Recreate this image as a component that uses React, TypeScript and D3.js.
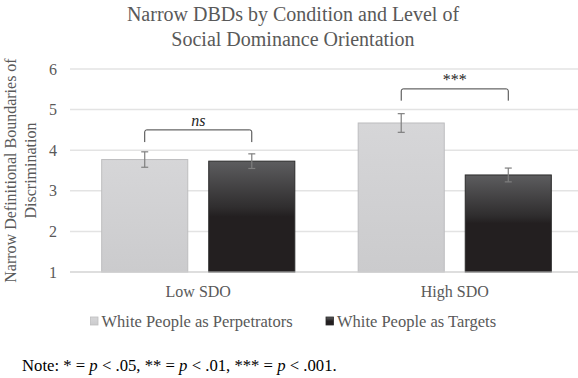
import React from "react";
import * as d3 from "d3";

// chart values
const conditions = ["Low SDO", "High SDO"];
const seriesNames = ["White People as Perpetrators", "White People as Targets"];
const perpetratorMeans = [3.77, 4.67];
const targetMeans = [3.73, 3.39];
const perpetratorSE = [0.19, 0.23];
const targetSE = [0.18, 0.17];
const yTicks = [1, 2, 3, 4, 5, 6];
const brackets = [
  { cond: "Low SDO", top: 4.5, foot: 4.2, label: "ns", italic: true },
  { cond: "High SDO", top: 5.51, foot: 5.22, label: "***", italic: false },
];

const W = 578;
const H = 378;
const margin = { top: 69, right: -5, bottom: 106, left: 70 };
const FONT = "'Liberation Serif', 'Times New Roman', serif";
const GREY = "#595959";

export default function App() {
  const rows = conditions.map((c, i) => ({
    cond: c,
    values: [
      { s: seriesNames[0], v: perpetratorMeans[i], se: perpetratorSE[i] },
      { s: seriesNames[1], v: targetMeans[i], se: targetSE[i] },
    ],
  }));

  const x0 = d3
    .scaleBand()
    .domain(conditions)
    .range([margin.left, W - margin.right]);
  const x1 = d3
    .scaleBand()
    .domain(seriesNames)
    .range([0, x0.bandwidth()])
    .paddingInner(0.196)
    .paddingOuter(0.296);
  const y = d3
    .scaleLinear()
    .domain([1, 6])
    .range([H - margin.bottom, margin.top]);

  const fillFor = (s) => (s === seriesNames[0] ? "url(#lightGrad)" : "url(#darkGrad)");
  const strokeFor = (s) => (s === seriesNames[0] ? "#bdbdbf" : "#2b2b2b");

  return (
    <svg width={W} height={H} style={{ display: "block", position: "absolute", left: 0, top: 0 }}>
      <defs>
        <linearGradient id="lightGrad" x1="0" y1="0" x2="0" y2="1">
          <stop offset="0" stopColor="#d6d6d8" />
          <stop offset="1" stopColor="#cbcbcd" />
        </linearGradient>
        <linearGradient id="darkGrad" x1="0" y1="0" x2="0" y2="1">
          <stop offset="0" stopColor="#5d5d5f" />
          <stop offset="0.42" stopColor="#2f2d2e" />
          <stop offset="0.5" stopColor="#231f20" />
          <stop offset="1" stopColor="#231f20" />
        </linearGradient>
      </defs>
      <rect width={W} height={H} fill="#fff" />

      {/* title */}
      <text x={293} textAnchor="middle" fontFamily={FONT} fontSize={20} fill={GREY}>
        <tspan x={293} y={21}>Narrow DBDs by Condition and Level of</tspan>
        <tspan x={293} y={46}>Social Dominance Orientation</tspan>
      </text>

      {/* gridlines */}
      {yTicks.map((t) => (
        <line
          key={t}
          x1={margin.left}
          x2={W}
          y1={y(t)}
          y2={y(t)}
          stroke={t === 1 ? "#d9d9d9" : "#e3e3e3"}
          strokeWidth={1.5}
        />
      ))}
      {yTicks.map((t) => (
        <text
          key={"l" + t}
          x={57}
          y={y(t)}
          dy="0.35em"
          textAnchor="end"
          fontFamily={FONT}
          fontSize={16}
          fill={GREY}
        >
          {t}
        </text>
      ))}

      {/* y axis title */}
      <text
        transform={`translate(0, ${(y(1) + y(6)) / 2}) rotate(-90)`}
        textAnchor="middle"
        fontFamily={FONT}
        fontSize={16}
        fill={GREY}
      >
        <tspan x={0} y={16}>Narrow Definitional Boundaries of</tspan>
        <tspan x={0} y={36}>Discrimination</tspan>
      </text>

      {/* bars */}
      {rows.map((r) => (
        <g key={r.cond} transform={`translate(${x0(r.cond)},0)`}>
          {r.values.map((d) => {
            const bx = x1(d.s);
            const bw = x1.bandwidth();
            const cx = bx + bw / 2;
            return (
              <g key={d.s}>
                <rect
                  x={bx}
                  y={y(d.v)}
                  width={bw}
                  height={y(1) - y(d.v)}
                  fill={fillFor(d.s)}
                  stroke={strokeFor(d.s)}
                  strokeWidth={1}
                />
                <line x1={cx} x2={cx} y1={y(d.v + d.se)} y2={y(d.v - d.se)} stroke="#7f7f7f" strokeWidth={1.2} />
                <line x1={cx - 3.5} x2={cx + 3.5} y1={y(d.v + d.se)} y2={y(d.v + d.se)} stroke="#7f7f7f" strokeWidth={1.2} />
                <line x1={cx - 3.5} x2={cx + 3.5} y1={y(d.v - d.se)} y2={y(d.v - d.se)} stroke="#7f7f7f" strokeWidth={1.2} />
              </g>
            );
          })}
        </g>
      ))}

      {/* baseline drawn over the bars */}
      <line
        x1={margin.left}
        x2={W}
        y1={y(1)}
        y2={y(1)}
        stroke="#d9d9d9"
        strokeOpacity={0.55}
        strokeWidth={1.5}
      />

      {/* significance brackets */}
      {brackets.map((b) => {
        const left = x0(b.cond) + x1(seriesNames[0]) + x1.bandwidth() / 2;
        const right = x0(b.cond) + x1(seriesNames[1]) + x1.bandwidth() / 2;
        const yt = y(b.top);
        const yf = y(b.foot);
        const r = 2;
        const path = `M${left},${yf} L${left},${yt + r} Q${left},${yt} ${left + r},${yt} L${right - r},${yt} Q${right},${yt} ${right},${yt + r} L${right},${yf}`;
        return (
          <g key={b.cond}>
            <path d={path} fill="none" stroke="#404040" strokeWidth={1} />
            <text
              x={(left + right) / 2}
              y={yt - 4}
              textAnchor="middle"
              fontFamily={FONT}
              fontSize={16}
              fontStyle={b.italic ? "italic" : "normal"}
              fill="#262626"
            >
              {b.label}
            </text>
          </g>
        );
      })}

      {/* category labels */}
      {conditions.map((c) => (
        <text
          key={c}
          x={x0(c) + x0.bandwidth() / 2}
          y={297}
          textAnchor="middle"
          fontFamily={FONT}
          fontSize={16}
          fill={GREY}
        >
          {c}
        </text>
      ))}

      {/* legend */}
      {seriesNames.map((s, i) => {
        const lx = i === 0 ? 90.5 : 326;
        return (
          <g key={s}>
            <rect x={lx} y={317} width={7.5} height={8} fill={fillFor(s)} stroke={strokeFor(s)} strokeWidth={0.8} />
            <text x={lx + 11} y={327} fontFamily={FONT} fontSize={16.5} fill={GREY}>
              {s}
            </text>
          </g>
        );
      })}

      {/* note */}
      <text x={22} y={371} fontFamily={FONT} fontSize={16.7} fill="#000">
        Note: * = <tspan fontStyle="italic">p</tspan> {"< .05, ** = "}
        <tspan fontStyle="italic">p</tspan> {"< .01, *** = "}
        <tspan fontStyle="italic">p</tspan> {"< .001."}
      </text>
    </svg>
  );
}
